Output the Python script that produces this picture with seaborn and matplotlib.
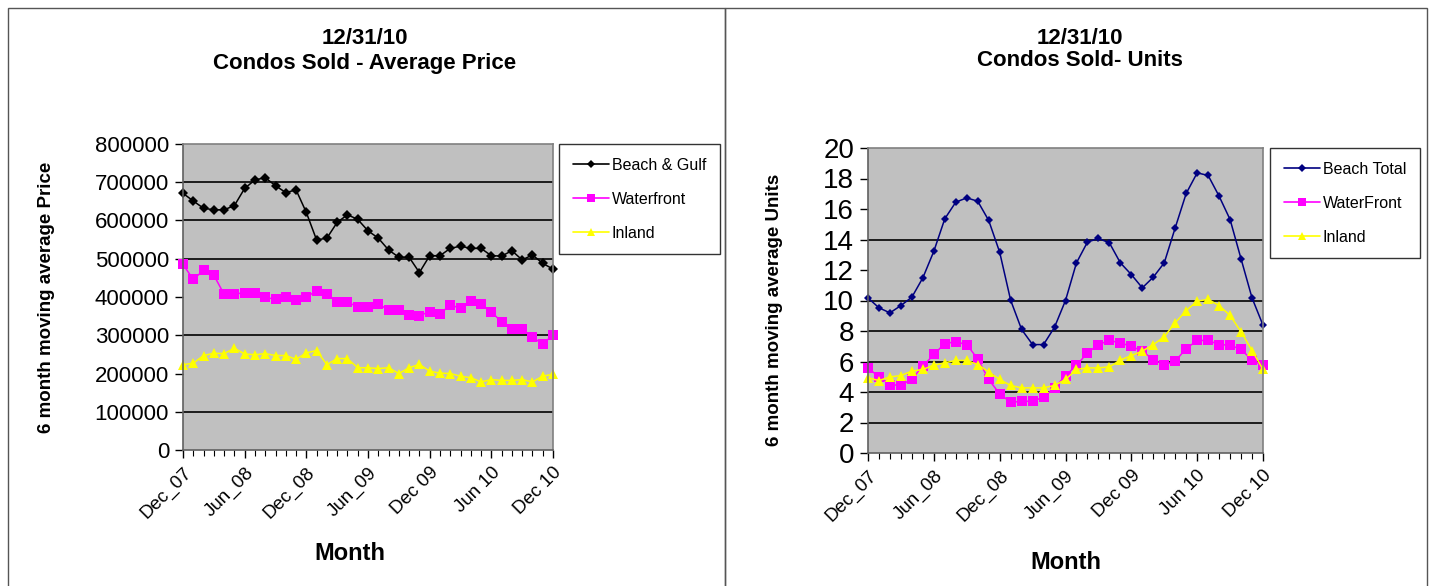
import matplotlib
matplotlib.use("Agg")
import matplotlib.pyplot as plt
from matplotlib.patches import Rectangle
from matplotlib.lines import Line2D
import seaborn as sns
import numpy as np
import pandas as pd

sns.set_theme(style="white")
plt.rcParams['font.family'] = ['Liberation Sans', 'DejaVu Sans']
plt.rcParams.update({"text.color": "black", "axes.labelcolor": "black",
                     "xtick.color": "black", "ytick.color": "black"})

# 37 months, Dec 2007 .. Dec 2010
month_idx = list(range(37))
tick_pos = [0, 6, 12, 18, 24, 30, 36]
tick_labels = ["Dec_07", "Jun_08", "Dec_08", "Jun_09", "Dec 09", "Jun 10", "Dec 10"]

# left chart: average price
beach_gulf = [671000, 651000, 632000, 628000, 628000, 639000, 684000, 706000, 712000, 691000,
              673000, 680000, 621000, 549000, 554000, 595000, 615000, 603000, 573000, 554000,
              523000, 504000, 504000, 464000, 508000, 508000, 527000, 533000, 527000, 527000,
              508000, 507000, 521000, 497000, 510000, 488000, 473000]
waterfront_price = [485000, 446000, 470000, 457000, 407000, 409000, 410000, 411000, 399000, 394000,
                    400000, 392000, 400000, 416000, 407000, 386000, 386000, 375000, 373000, 381000,
                    367000, 367000, 354000, 351000, 362000, 355000, 380000, 370000, 390000, 381000,
                    362000, 334000, 316000, 316000, 295000, 277000, 301000]
inland_price = [223000, 227000, 247000, 253000, 252000, 266000, 251000, 249000, 252000, 247000,
                247000, 237000, 254000, 260000, 223000, 239000, 239000, 215000, 215000, 213000,
                215000, 200000, 215000, 224000, 206000, 201000, 200000, 193000, 189000, 178000,
                184000, 182000, 182000, 184000, 178000, 193000, 198000]

# right chart: units
beach_total = [10.17, 9.52, 9.19, 9.67, 10.22, 11.49, 13.23, 15.36, 16.45, 16.73,
               16.51, 15.25, 13.17, 10.02, 8.10, 7.11, 7.11, 8.25, 10.0, 12.47,
               13.83, 14.07, 13.78, 12.47, 11.7, 10.83, 11.53, 12.47, 14.77, 17.02,
               18.37, 18.2, 16.84, 15.31, 12.73, 10.17, 8.38]
waterfront_units = [5.58, 4.99, 4.49, 4.43, 4.86, 5.69, 6.46, 7.18, 7.29, 7.11,
                    6.17, 4.82, 3.88, 3.33, 3.38, 3.40, 3.66, 4.27, 5.08, 5.74,
                    6.57, 7.11, 7.38, 7.22, 7.0, 6.68, 6.13, 5.78, 6.02, 6.85,
                    7.38, 7.38, 7.11, 7.07, 6.79, 6.09, 5.74]
inland_units = [4.93, 4.75, 4.99, 5.08, 5.37, 5.48, 5.76, 5.91, 6.07, 6.07,
                5.80, 5.32, 4.82, 4.43, 4.27, 4.27, 4.27, 4.43, 4.82, 5.48,
                5.58, 5.58, 5.65, 6.09, 6.39, 6.68, 7.11, 7.62, 8.54, 9.34,
                9.96, 10.07, 9.67, 9.02, 7.95, 6.72, 5.48]

price_grid = [100000, 300000, 500000, 600000, 700000]
units_grid = [2, 4, 6, 8, 10, 14]

W, H = 1432, 586
fig = plt.figure(figsize=(W / 100, H / 100), dpi=100)
fig.patch.set_facecolor("white")


def px_axes(x0, y0, x1, y1):
    return fig.add_axes([x0 / W, 1 - y1 / H, (x1 - x0) / W, (y1 - y0) / H])


def draw_chart(ax, names, series, colors, markers, sizes, ymax, ystep, grid, ytick_fs):
    df = pd.DataFrame({"month": month_idx * len(names),
                       "value": sum(series, []),
                       "series": sum([[n] * 37 for n in names], [])})
    sns.lineplot(data=df, x="month", y="value", hue="series", style="series",
                 palette=dict(zip(names, colors)), markers=dict(zip(names, markers)),
                 dashes=False, linewidth=1.1, markeredgewidth=0, ax=ax, legend=False)
    for line, s in zip(ax.lines, sizes):
        line.set_markersize(s)
        line.set_clip_on(False)
    ax.set_facecolor("#c0c0c0")
    ax.set_xlim(0, 36)
    ax.set_ylim(0, ymax)
    ax.set_yticks(np.arange(0, ymax + 1, ystep))
    ax.set_yticklabels([f"{v:g}" for v in np.arange(0, ymax + 1, ystep)], fontsize=ytick_fs)
    for g in grid:
        ax.axhline(g, color="black", lw=1.2, zorder=0.5)
    ax.set_xticks(tick_pos)
    ax.set_xticklabels(tick_labels, rotation=45, ha="right", rotation_mode="anchor",
                       fontsize=13.5)
    ax.set_xticks(month_idx, minor=True)
    ax.tick_params(axis="x", which="major", direction="out", length=6, width=1, color="black",
                   bottom=True, pad=4)
    ax.tick_params(axis="x", which="minor", direction="out", length=4, width=0.8, color="black",
                   bottom=True)
    ax.tick_params(axis="y", direction="out", length=6, width=1, color="black", left=True, pad=4)
    for side in ["top", "right"]:
        ax.spines[side].set_color("#808080")
    for side in ["left", "bottom"]:
        ax.spines[side].set_color("#606060")
    for sp in ax.spines.values():
        sp.set_linewidth(1.2)
    ax.set_xlabel("Month", fontsize=17, fontweight="bold")
    handles = [Line2D([0], [0], color=c, marker=m, markersize=s * 0.8, markeredgewidth=0, lw=1.2)
               for c, m, s in zip(colors, markers, sizes)]
    return handles


# left chart
ax1 = px_axes(183, 144, 553, 450)
names1 = ["Beach & Gulf", "Waterfront", "Inland"]
colors1 = ["black", "#ff00ff", "#ffff00"]
h1 = draw_chart(ax1, names1, [beach_gulf, waterfront_price, inland_price], colors1,
                ["D", "s", "^"], [5, 7, 7], 800000, 100000, price_grid, 16)
ax1.set_ylabel("6 month moving average Price", fontsize=13.5, fontweight="bold")
ax1.yaxis.set_label_coords(-0.345, 0.5)
ax1.xaxis.set_label_coords(0.45, -0.3)
leg1 = fig.legend(h1, names1, loc="upper left", bbox_to_anchor=(559 / W, 1 - 144 / H),
                  frameon=True, fancybox=False, fontsize=11.5, labelspacing=1.2,
                  handlelength=2.3, borderpad=0.85, handletextpad=0.15, borderaxespad=0)
leg1.get_frame().set_edgecolor("black")
leg1.get_frame().set_linewidth(1)

# right chart
ax2 = px_axes(868, 148, 1263, 453)
names2 = ["Beach Total", "WaterFront", "Inland"]
colors2 = ["#000080", "#ff00ff", "#ffff00"]
h2 = draw_chart(ax2, names2, [beach_total, waterfront_units, inland_units], colors2,
                ["D", "s", "^"], [4.5, 7, 7], 20, 2, units_grid, 20)
ax2.set_ylabel("6 month moving average Units", fontsize=13.5, fontweight="bold")
ax2.yaxis.set_label_coords(-0.215, 0.47)
ax2.xaxis.set_label_coords(0.5, -0.32)
leg2 = fig.legend(h2, names2, loc="upper left", bbox_to_anchor=(1270 / W, 1 - 148 / H),
                  frameon=True, fancybox=False, fontsize=11.5, labelspacing=1.2,
                  handlelength=2.3, borderpad=0.85, handletextpad=0.15, borderaxespad=0)
leg2.get_frame().set_edgecolor("black")
leg2.get_frame().set_linewidth(1)

# titles
fig.text(365 / W, 1 - 38 / H, "12/31/10", ha="center", va="center", fontsize=16, fontweight="bold")
fig.text(365 / W, 1 - 64 / H, "Condos Sold - Average Price", ha="center", va="center",
         fontsize=16, fontweight="bold")
fig.text(1080 / W, 1 - 38 / H, "12/31/10", ha="center", va="center", fontsize=16, fontweight="bold")
fig.text(1080 / W, 1 - 61 / H, "Condos Sold- Units", ha="center", va="center",
         fontsize=16, fontweight="bold")

# panel frames
fig.add_artist(Rectangle((8 / W, -0.05), (725 - 8) / W, 1.05 - 8 / H, transform=fig.transFigure,
                         fill=False, edgecolor="#555555", lw=1))
fig.add_artist(Rectangle((725 / W, -0.05), (1427 - 725) / W, 1.05 - 8 / H, transform=fig.transFigure,
                         fill=False, edgecolor="#555555", lw=1))

fig.savefig("out.png", dpi=100)
